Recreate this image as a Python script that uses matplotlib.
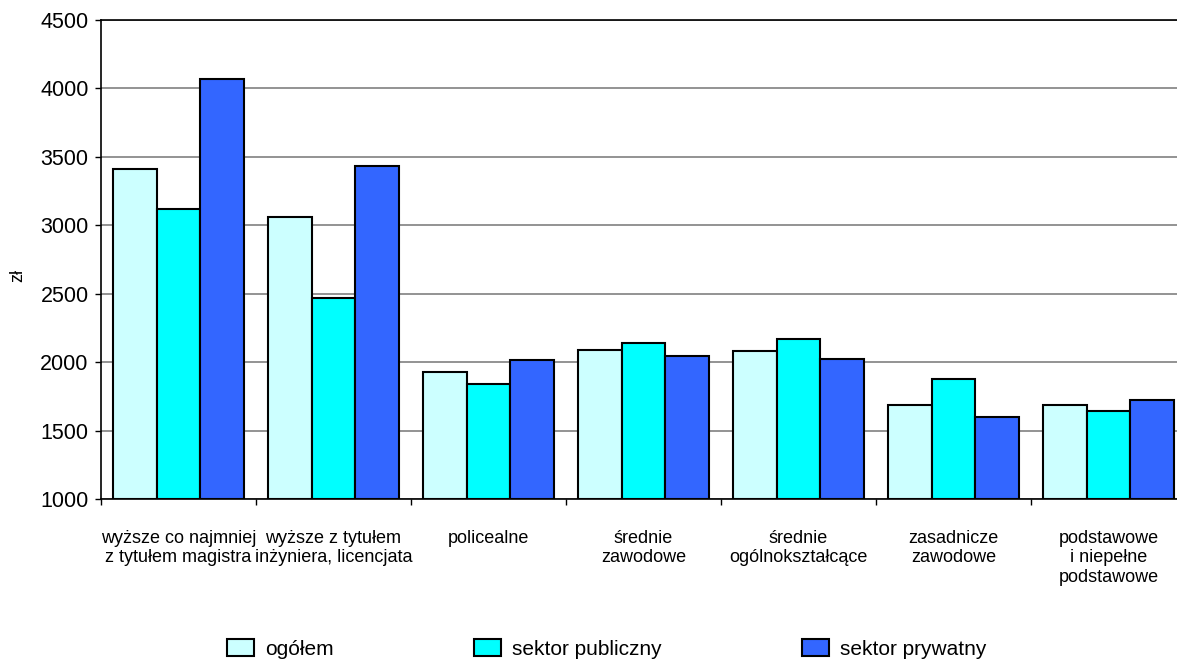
import matplotlib
matplotlib.use("Agg")
import matplotlib.pyplot as plt
import numpy as np

categories = [
    "wyższe co najmniej\nz tytułem magistra",
    "wyższe z tytułem\ninżyniera, licencjata",
    "policealne",
    "średnie\nzawodowe",
    "średnie\nogólnokształcące",
    "zasadnicze\nzawodowe",
    "podstawowe\ni niepełne\npodstawowe",
]
ogolem = [3410, 3060, 1925, 2090, 2080, 1685, 1688]
publiczny = [3120, 2470, 1840, 2140, 2170, 1878, 1645]
prywatny = [4070, 3430, 2018, 2045, 2025, 1600, 1725]
series_names = ["ogółem", "sektor publiczny", "sektor prywatny"]
colors = ["#CCFFFF", "#00FFFF", "#3366FF"]

plt.rcParams['font.family'] = ['Liberation Sans', 'DejaVu Sans']

W, H = 1177, 660
fig = plt.figure(figsize=(W / 100, H / 100), dpi=100)
left_px, right_px, top_px, bot_px = 101, 1186, 20, 499
ax = fig.add_axes([left_px / W, 1 - bot_px / H, (right_px - left_px) / W, (bot_px - top_px) / H])

x = np.arange(len(categories))
bw = 43.5 / 155.0
data = [ogolem, publiczny, prywatny]
for i, (vals, c, name) in enumerate(zip(data, colors, series_names)):
    ax.bar(x + (i - 1) * bw, np.array(vals) - 1000, bottom=1000, width=bw, color=c,
           edgecolor="black", linewidth=1.5, zorder=3, label=name)

ax.set_xlim(-0.5, len(categories) - 0.5)
ax.set_ylim(1000, 4500)
ax.set_yticks(np.arange(1000, 4501, 500))
ax.yaxis.grid(True, color="#808080", linewidth=1.2, zorder=0)
ax.set_axisbelow(True)

ax.set_xticks(np.arange(len(categories) + 1) - 0.5)
ax.set_xticklabels([])
ax.set_xticks(x, minor=True)
ax.set_xticklabels(categories, minor=True, fontsize=13, linespacing=1.2)
ax.tick_params(axis="x", which="minor", length=0, pad=22)
ax.tick_params(axis="x", which="major", length=4, width=1, direction="out")
ax.tick_params(axis="y", length=4, width=1, direction="out", labelsize=15.5, pad=5)

for s in ["left", "bottom", "top"]:
    ax.spines[s].set_linewidth(1.2)
    ax.spines[s].set_color("black")
ax.spines["right"].set_visible(False)

fig.text(18 / W, 1 - 275 / H, "zł", rotation=90, fontsize=13, ha="center", va="center")

fig.legend(loc="upper left", bbox_to_anchor=(227 / W, 1 - 639 / H), ncol=3, frameon=False,
           fontsize=15, handlelength=1.3, handleheight=0.9, handletextpad=0.55,
           columnspacing=6.7, borderpad=0, borderaxespad=0)

fig.savefig("out.png", dpi=100)
